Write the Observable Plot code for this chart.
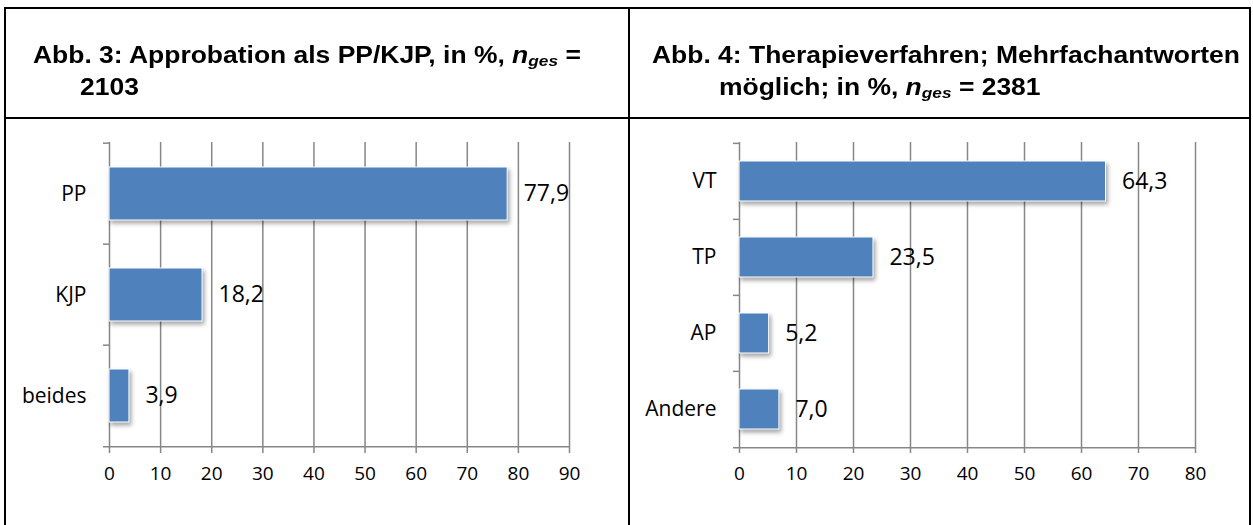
<!DOCTYPE html>
<html><head><meta charset="utf-8">
<script src="https://cdn.jsdelivr.net/npm/d3@7"></script>
<script src="https://cdn.jsdelivr.net/npm/@observablehq/plot@0.6"></script>
<style>
html,body{margin:0;padding:0;background:#fff;}
body{width:1253px;height:525px;overflow:hidden;position:relative;}
.line{position:absolute;background:#000;}
.title{position:absolute;font-family:"Liberation Sans",Arial,sans-serif;font-weight:bold;font-size:23px;line-height:32px;white-space:nowrap;transform:scaleX(1.15);transform-origin:0 0;color:#000;}
.title sub{font-size:15px;vertical-align:-3px;line-height:0;}
.chart{position:absolute;top:120px;}
.chart g[aria-label="bar"]{filter:drop-shadow(2px 3px 2px rgba(0,0,0,0.35));}
.chart g[aria-label="x-axis tick label"], .chart g[aria-label="x-axis tick label"] text{font-size:19px !important;}
.chart g[aria-label="y-axis tick label"], .chart g[aria-label="y-axis tick label"] text{font-size:21px !important;}
</style></head><body>
<div class="line" style="left:4px;top:7px;width:1247px;height:2px"></div>
<div class="line" style="left:4px;top:117px;width:1247px;height:2px"></div>
<div class="line" style="left:4px;top:7px;width:2px;height:113px"></div>
<div class="line" style="left:4px;top:118px;width:1.5px;height:407px"></div>
<div class="line" style="left:628px;top:7px;width:2px;height:518px"></div>
<div class="line" style="left:1249px;top:7px;width:2px;height:518px"></div>

<div class="title" style="left:33px;top:39px">Abb. 3: Approbation als PP/KJP, in %, <i>n<sub>ges</sub></i> =</div>
<div class="title" style="left:80px;top:71px">2103</div>
<div class="title" style="left:652px;top:39px">Abb. 4: Therapieverfahren; Mehrfachantworten</div>
<div class="title" style="left:719px;top:71px">möglich; in %, <i>n<sub>ges</sub></i> = 2381</div>

<div id="c1" class="chart" style="left:7px"></div>
<div id="c2" class="chart" style="left:630px"></div>

<script>
// Abb. 3: Approbation
const cats3 = ["PP", "KJP", "beides"];
const vals3 = [77.9, 18.2, 3.9];
const ticks3 = [0, 10, 20, 30, 40, 50, 60, 70, 80, 90];

// Abb. 4: Therapieverfahren
const cats4 = ["VT", "TP", "AP", "Andere"];
const vals4 = [64.3, 23.5, 5.2, 7.0];
const ticks4 = [0, 10, 20, 30, 40, 50, 60, 70, 80];

const fmt = d3.formatLocale({decimal: ",", thousands: ".", grouping: [3], currency: ["", "€"]}).format(".1f");
const GRID = "#878787";

function chart(cats, vals, ticks, w, mL, mR, inset) {
  const data = cats.map((c, i) => ({c, v: vals[i]}));
  const H = 405, mT = 22, mB = 78;
  const bw = (H - mT - mB) / cats.length;
  const xmax = ticks[ticks.length - 1];
  return Plot.plot({
    width: w, height: H,
    marginTop: mT, marginBottom: mB, marginLeft: mL, marginRight: mR,
    style: {fontFamily: '"Open Sans", sans-serif', fontSize: "18px", color: "#000", background: "transparent", overflow: "visible"},
    x: {domain: [0, xmax], label: null},
    y: {domain: cats, padding: 0, label: null},
    marks: [
      Plot.gridX(ticks, {stroke: GRID, strokeOpacity: 1, strokeWidth: 1.5}),
      Plot.ruleY(cats, {y: d => d, x1: 0, x2: 0, insetLeft: -6, dy: -bw / 2, stroke: GRID, strokeWidth: 1.5}),
      Plot.ruleY([cats[cats.length - 1]], {y: d => d, x1: 0, x2: xmax, insetLeft: -6, dy: bw / 2, stroke: GRID, strokeWidth: 1.5}),
      Plot.axisX(ticks, {tickSize: 6, tickPadding: 13, stroke: GRID, strokeWidth: 1.5, fontSize: 19, tickFormat: d => String(d), label: null}),
      Plot.axisY({tickSize: 0, tickPadding: 23, fontSize: 21, label: null}),
      Plot.barX(data, {y: "c", x: "v", fill: "#4F81BD", stroke: "#ffffff", strokeWidth: 1, insetTop: inset, insetBottom: inset}),
      Plot.text(data, {y: "c", x: "v", text: d => fmt(d.v), textAnchor: "start", dx: 16, fontSize: 23, fill: "#000"})
    ]
  });
}

document.getElementById("c1").append(chart(cats3, vals3, ticks3, 621, 102, 59, 24));
document.getElementById("c2").append(chart(cats4, vals4, ticks4, 619, 109, 54, 18));
</script>
</body></html>
